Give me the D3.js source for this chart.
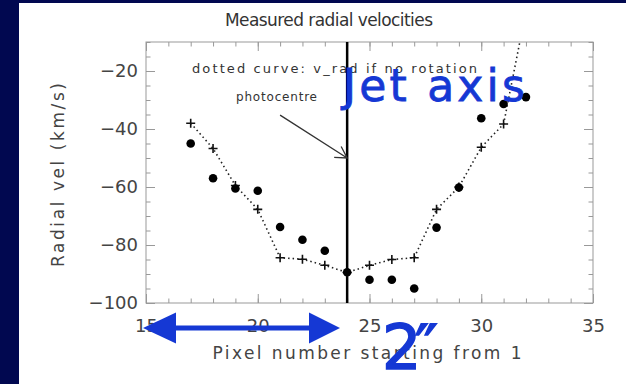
<!DOCTYPE html>
<html>
<head>
<meta charset="utf-8">
<script src="https://cdn.jsdelivr.net/npm/d3@7"></script>
<style>
  body { margin: 0; background: #010850; }
  svg { display: block; }
</style>
</head>
<body>
<div id="chart"></div>
<script>
// pixel number along the slit
const pixels = [17, 18, 19, 20, 21, 22, 23, 24, 25, 26, 27, 28, 29, 30, 31, 32]
// measured radial velocities (filled dots)
const vMeasured = [-45, -57, -60.5, -61.3, -73.8, -78.2, -82, -89.4, -92, -92, -95, -74, -60.2, -36.3, -31.4, -29]
// v_rad if no rotation (crosses on dotted curve), last one runs off the top
const vNoRotation = [-38, -46.7, -59.5, -67.7, -84.4, -84.9, -87, -89.5, -87, -85, -84.4, -67.7, -60, -46.3, -38.3, 0.7]
const xTicks = [15, 20, 25, 30, 35]
const yTicks = [-100, -80, -60, -40, -20]
const jetAxis = 24
const photocentre = {from: [21, -35.2], to: [24, -50]}

const W = 626, H = 384
const svg = d3.select('#chart').append('svg')
    .attr('width', W)
    .attr('height', H)

svg.append('rect').attr('width', W).attr('height', H).attr('fill', '#010850')
svg.append('rect').attr('x', 19).attr('y', 3).attr('width', W - 19).attr('height', H - 3).attr('fill', 'white')

const x = d3.scaleLinear().domain([15, 35]).range([146, 593])
const y = d3.scaleLinear().domain([-100, -10]).range([303, 42])

const font = 'DejaVu Sans'
const ink = '#444'
const axisCol = '#999'

svg.append('defs').append('clipPath').attr('id', 'plotclip')
    .append('rect')
    .attr('x', x.range()[0]).attr('y', y.range()[1])
    .attr('width', x.range()[1] - x.range()[0])
    .attr('height', y.range()[0] - y.range()[1])

// axes, IDL style: ticks pointing in, on all four sides
function styleAxis(g) {
    g.select('.domain').remove()
    g.selectAll('line').attr('stroke', axisCol).attr('stroke-width', 1)
    g.selectAll('text').attr('fill', ink).attr('font-family', font).attr('font-size', 18)
}
const xMinor = d3.range(15, 36, 1)
const yMinor = d3.range(-100, -9, 5)

svg.append('g').attr('transform', `translate(0,${y(-100)})`)
    .call(d3.axisBottom(x).tickValues(xMinor).tickSize(-4.5).tickFormat(''))
    .call(styleAxis)
svg.append('g').attr('transform', `translate(0,${y(-100)})`)
    .call(d3.axisBottom(x).tickValues(xTicks).tickSize(-9).tickPadding(16).tickFormat(d3.format('d')))
    .call(styleAxis)
svg.append('g').attr('transform', `translate(0,${y(-10)})`)
    .call(d3.axisTop(x).tickValues(xMinor).tickSize(-4.5).tickFormat(''))
    .call(styleAxis)
svg.append('g').attr('transform', `translate(0,${y(-10)})`)
    .call(d3.axisTop(x).tickValues(xTicks).tickSize(-9).tickFormat(''))
    .call(styleAxis)

svg.append('g').attr('transform', `translate(${x(15)},0)`)
    .call(d3.axisLeft(y).tickValues(yMinor).tickSize(-4.5).tickFormat(''))
    .call(styleAxis)
svg.append('g').attr('transform', `translate(${x(15)},0)`)
    .call(d3.axisLeft(y).tickValues(yTicks).tickSize(-9).tickPadding(8).tickFormat(d => '\u2212' + Math.abs(d)))
    .call(styleAxis)
svg.append('g').attr('transform', `translate(${x(35)},0)`)
    .call(d3.axisRight(y).tickValues(yMinor).tickSize(-4.5).tickFormat(''))
    .call(styleAxis)
svg.append('g').attr('transform', `translate(${x(35)},0)`)
    .call(d3.axisRight(y).tickValues(yTicks).tickSize(-9).tickFormat(''))
    .call(styleAxis)

svg.append('rect')
    .attr('x', x(15)).attr('y', y(-10))
    .attr('width', x(35) - x(15)).attr('height', y(-100) - y(-10))
    .attr('fill', 'none').attr('stroke', axisCol).attr('stroke-width', 1)

// labels
svg.append('text').attr('x', 329).attr('y', 26)
    .attr('text-anchor', 'middle').attr('font-family', font).attr('font-size', 17).attr('fill', '#333')
    .attr('textLength', 208)
    .text('Measured radial velocities')
svg.append('text').attr('x', 367).attr('y', 359)
    .attr('text-anchor', 'middle').attr('font-family', font).attr('font-size', 17).attr('fill', ink)
    .attr('textLength', 309)
    .text('Pixel number starting from 1')
svg.append('text').attr('transform', 'translate(64,175) rotate(-90)')
    .attr('text-anchor', 'middle').attr('font-family', font).attr('font-size', 17).attr('fill', ink)
    .attr('textLength', 184)
    .text('Radial vel (km/s)')

svg.append('text').attr('x', 192).attr('y', 73)
    .attr('font-family', font).attr('font-size', 13).attr('fill', '#333')
    .attr('textLength', 285)
    .text('dotted curve: v_rad if no rotation')
svg.append('text').attr('x', 236).attr('y', 101)
    .attr('font-family', font).attr('font-size', 12).attr('fill', '#333')
    .attr('textLength', 81)
    .text('photocentre')

// jet axis / photocentre line
svg.append('line')
    .attr('x1', x(jetAxis)).attr('x2', x(jetAxis))
    .attr('y1', y(-100)).attr('y2', y(-10))
    .attr('stroke', 'black').attr('stroke-width', 2.5)

const plot = svg.append('g').attr('clip-path', 'url(#plotclip)')

// dotted model curve
const pts = pixels.map((p, i) => [p, vNoRotation[i]])
plot.append('path')
    .datum(pts)
    .attr('d', d3.line().x(d => x(d[0])).y(d => y(d[1])))
    .attr('fill', 'none')
    .attr('stroke', '#222')
    .attr('stroke-width', 1.6)
    .attr('stroke-dasharray', '1.5,3')

plot.selectAll('.cross')
    .data(pts)
    .join('path')
    .attr('class', 'cross')
    .attr('d', d => {
        const cx = x(d[0]), cy = y(d[1]), r = 4.5
        return `M${cx - r},${cy}H${cx + r}M${cx},${cy - r}V${cy + r}`
    })
    .attr('stroke', '#111')
    .attr('stroke-width', 1.6)

plot.selectAll('.dot')
    .data(pixels.map((p, i) => [p, vMeasured[i]]))
    .join('circle')
    .attr('class', 'dot')
    .attr('cx', d => x(d[0]))
    .attr('cy', d => y(d[1]))
    .attr('r', 4.3)
    .attr('fill', 'black')

// photocentre arrow
const ax1 = x(photocentre.from[0]), ay1 = y(photocentre.from[1])
const ax2 = x(photocentre.to[0]), ay2 = y(photocentre.to[1])
const ang = Math.atan2(ay2 - ay1, ax2 - ax1)
const barb = 13
svg.append('path')
    .attr('d', `M${ax1},${ay1}L${ax2},${ay2}` +
        `M${ax2 - barb * Math.cos(ang - Math.PI / 6)},${ay2 - barb * Math.sin(ang - Math.PI / 6)}L${ax2},${ay2}` +
        `L${ax2 - barb * Math.cos(ang + Math.PI / 6)},${ay2 - barb * Math.sin(ang + Math.PI / 6)}`)
    .attr('fill', 'none').attr('stroke', '#333').attr('stroke-width', 1.3)

// hand drawn blue annotations
const blue = '#1538d4'
svg.append('text').attr('x', 343).attr('y', 101)
    .attr('font-family', font).attr('font-size', 44).attr('fill', blue)
    .attr('stroke', blue).attr('stroke-width', 0.8)
    .attr('textLength', 182)
    .text('Jet axis')

svg.append('line')
    .attr('x1', 170).attr('x2', 314).attr('y1', 328).attr('y2', 328)
    .attr('stroke', blue).attr('stroke-width', 5)
svg.append('path').attr('d', 'M143,328L176,312.5L176,343.5Z').attr('fill', blue)
svg.append('path').attr('d', 'M340,328L309,312.5L309,343.5Z').attr('fill', blue)

svg.append('text').attr('x', 382).attr('y', 369)
    .attr('font-family', font).attr('font-size', 62).attr('fill', blue)
    .attr('stroke', blue).attr('stroke-width', 1.5)
    .attr('textLength', 56)
    .text('2\u2033')
</script>
</body>
</html>
